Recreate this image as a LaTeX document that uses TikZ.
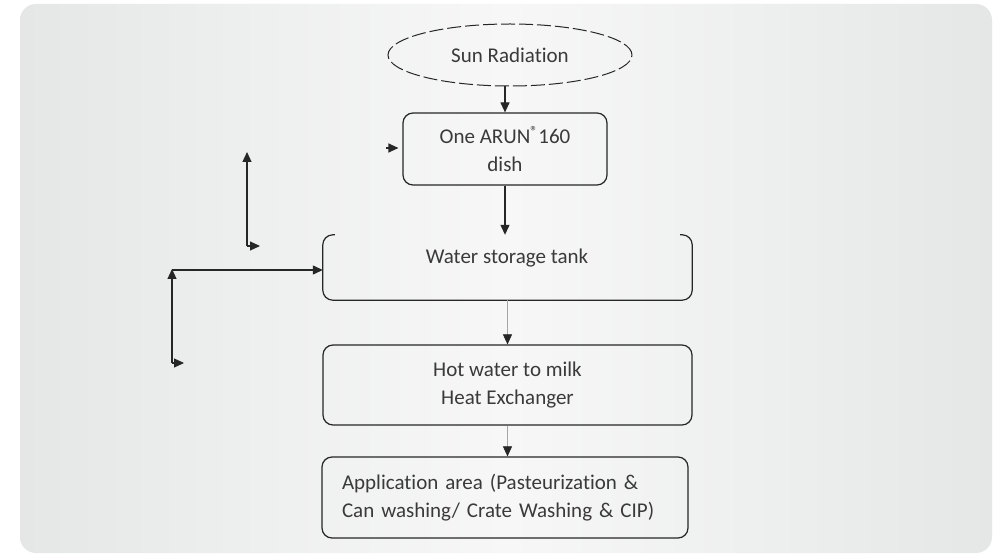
\documentclass[tikz,border=0pt]{standalone}
\usepackage{fontspec}
\setmainfont{Carlito}[Ligatures=NoCommon]
\usetikzlibrary{shapes.geometric,arrows.meta}
\definecolor{txtc}{HTML}{3A3A3A}
\definecolor{linec}{HTML}{262626}
\definecolor{bgside}{HTML}{E5E7E7}
\definecolor{bgmid}{HTML}{F7F7F7}
\tikzset{
  lbl/.style={text=txtc, font=\fontsize{21}{28}\selectfont},
  box/.style={lbl, draw=linec, line width=1.2pt, rounded corners=10pt, align=center},
  arr/.style={draw=linec, line width=1.2pt, -{Triangle[length=10pt,width=9pt]}},
  thinarr/.style={draw=black!35, line width=0.6pt, -{Triangle[length=10pt,width=9pt,color=linec]}},
}
\begin{document}
\begin{tikzpicture}[x=1pt,y=-1pt]
\useasboundingbox (0,0) rectangle (997,556);
\fill[white] (0,0) rectangle (997,556);
\shade[rounded corners=16pt, left color=bgside, right color=bgside, middle color=bgmid] (20,4) rectangle (992,553);
% nodes
\node[lbl, ellipse, draw=linec, line width=1pt, dash pattern=on 14pt off 4pt, minimum width=244, minimum height=62, inner sep=0pt] (sun) at (510,55) {Sun Radiation};
\node[box, minimum width=204, minimum height=72] (dish) at (505,149) {One ARUN\textsuperscript{®}160\\dish};
\node[minimum width=369, minimum height=65, inner sep=0pt] (tank) at (507.5,267.5) {};
\node[lbl] (tanktxt) at (507,258) {Water storage tank};
\draw[linec, line width=1.2pt, rounded corners=10pt]
  ([xshift=12pt]tank.north west) -- (tank.north west) -- (tank.south west) -- (tank.south east) -- (tank.north east) -- ([xshift=-12pt]tank.north east);
\node[box, minimum width=369, minimum height=80] (hot) at (507.5,385) {Hot water to milk\\Heat Exchanger};
\node[box, text width=326, inner xsep=20pt, minimum height=81, align=left] (app) at (505,497.5) {Application area (Pasteurization \&\\Can washing/ Crate Washing \& CIP)};
% main flow
\draw[arr] (dish.north |- sun.south) -- (dish.north);
\draw[arr] (dish.south) -- (dish.south |- tank.north);
\draw[thinarr] (tank.south) -- (hot.north);
\draw[thinarr] (hot.south) -- (hot.south |- app.north);
% left side arrows
\coordinate (d1) at (386,148);
\draw[arr] (d1) -- ([xshift=-4pt]d1 -| dish.west);
\coordinate (a1) at (247,152);
\coordinate (a2) at (247,246);
\coordinate (a3) at (260,246);
\draw[arr] (a2) -- (a1);
\draw[arr] (a2) -- (a3);
\coordinate (h1) at (172,270);
\draw[arr] (h1) -- (h1 -| tank.west);
\coordinate (v2) at (172,363);
\coordinate (v3) at (184,363);
\draw[arr] (v2) -- ([yshift=1pt]h1);
\draw[arr] (v2) -- (v3);
\end{tikzpicture}
\end{document}
